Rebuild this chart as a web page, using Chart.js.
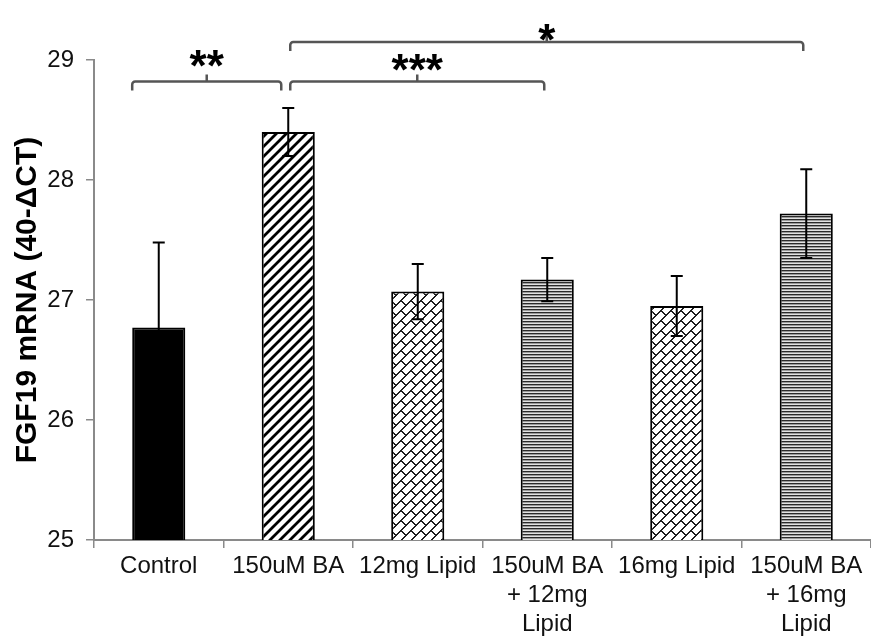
<!DOCTYPE html>
<html>
<head>
<meta charset="utf-8">
<script src="https://cdn.jsdelivr.net/npm/chart.js@4"></script>
<style>
  html, body { margin: 0; padding: 0; background: #fff; }
</style>
</head>
<body>
<canvas id="chart" width="871" height="638"></canvas>
<script>
const categories = [
  'Control',
  '150uM BA',
  '12mg Lipid',
  ['150uM BA', '+ 12mg', 'Lipid'],
  '16mg Lipid',
  ['150uM BA', '+ 16mg', 'Lipid']
];
const means = [26.77, 28.40, 27.07, 27.17, 26.95, 27.72];
const errors = [0.71, 0.20, 0.23, 0.18, 0.25, 0.37];
const yTicks = [25, 26, 27, 28, 29];

// significance brackets: from bar, to bar, level (y value), label
const brackets = [
  { from: 0, to: 1, level: 28.82, label: '**', gap: 26 },
  { from: 1, to: 3, level: 28.82, label: '***', gap: 22 },
  { from: 1, to: 5, level: 29.15, label: '*', gap: 12 }
];

const FONT = '"Liberation Sans", Arial, sans-serif';

// fill patterns
function diagPattern() {
  const c = document.createElement('canvas');
  c.width = 10; c.height = 10;
  const g = c.getContext('2d');
  g.fillStyle = '#fff';
  g.fillRect(0, 0, 10, 10);
  g.strokeStyle = '#000';
  g.lineWidth = 2.8;
  g.beginPath();
  g.moveTo(-2, 12); g.lineTo(12, -2);
  g.moveTo(-2, 2); g.lineTo(2, -2);
  g.moveTo(8, 12); g.lineTo(12, 8);
  g.stroke();
  return g.createPattern(c, 'repeat');
}

function brickPattern() {
  const s = 20, half = 10;
  const c = document.createElement('canvas');
  c.width = s; c.height = s;
  const g = c.getContext('2d');
  const img = g.createImageData(s, s);
  for (let y = 0; y < s; y++) {
    for (let x = 0; x < s; x++) {
      const u = ((x + y) % s + s) % s;
      const v = ((x - y) % s + s) % s;
      let dark = (u % half) < 1.6;
      const band = Math.floor(u / half);
      const off = band === 0 ? 0 : half;
      if (((v - off) % s + s) % s < 1.6) dark = true;
      const i = (y * s + x) * 4;
      const col = dark ? 30 : 255;
      img.data[i] = col; img.data[i + 1] = col; img.data[i + 2] = col; img.data[i + 3] = 255;
    }
  }
  g.putImageData(img, 0, 0);
  return g.createPattern(c, 'repeat');
}

function hLinePattern() {
  const c = document.createElement('canvas');
  c.width = 4; c.height = 3;
  const g = c.getContext('2d');
  g.fillStyle = '#2a2a2a'; g.fillRect(0, 0, 4, 1);
  g.fillStyle = '#9a9a9a'; g.fillRect(0, 1, 4, 1);
  g.fillStyle = '#e2e2e2'; g.fillRect(0, 2, 4, 1);
  return g.createPattern(c, 'repeat');
}

const diag = diagPattern();
const brick = brickPattern();
const hline = hLinePattern();
const fills = ['#000', diag, brick, hline, brick, hline];

const errorBars = {
  id: 'errorBars',
  afterDatasetsDraw(chart) {
    const ctx = chart.ctx;
    const y = chart.scales.y;
    const meta = chart.getDatasetMeta(0);
    ctx.save();
    ctx.strokeStyle = '#000';
    ctx.lineWidth = 2;
    meta.data.forEach((bar, i) => {
      const top = y.getPixelForValue(means[i] + errors[i]);
      const bot = y.getPixelForValue(means[i] - errors[i]);
      ctx.beginPath();
      ctx.moveTo(bar.x, top); ctx.lineTo(bar.x, bot);
      ctx.moveTo(bar.x - 6, top); ctx.lineTo(bar.x + 6, top);
      ctx.moveTo(bar.x - 6, bot); ctx.lineTo(bar.x + 6, bot);
      ctx.stroke();
    });
    ctx.restore();
  }
};

const sigBrackets = {
  id: 'sigBrackets',
  afterDraw(chart) {
    const ctx = chart.ctx;
    const y = chart.scales.y;
    const meta = chart.getDatasetMeta(0);
    const size = 44;
    ctx.save();
    ctx.strokeStyle = '#555';
    ctx.lineWidth = 2.5;
    ctx.lineJoin = 'round';
    ctx.fillStyle = '#000';
    ctx.font = 'bold ' + size + 'px ' + FONT;
    ctx.textAlign = 'center';
    brackets.forEach((b, k) => {
      const a = meta.data[b.from], z = meta.data[b.to];
      const x0 = k === 0 ? a.x - a.width / 2 : a.x + 2;
      const x1 = k === 0 ? z.x - 7 : z.x - 3;
      const yl = y.getPixelForValue(b.level);
      const mid = (x0 + x1) / 2;
      const drop = 9, r = 3;
      ctx.beginPath();
      ctx.moveTo(x0, yl + drop);
      ctx.arcTo(x0, yl, x0 + r, yl, r);
      ctx.lineTo(x1 - r, yl);
      ctx.arcTo(x1, yl, x1, yl + drop, r);
      ctx.lineTo(x1, yl + drop);
      ctx.moveTo(mid, yl);
      ctx.lineTo(mid, yl - 7);
      ctx.stroke();
      ctx.fillText(b.label, mid, yl - b.gap + 0.57 * size);
    });
    ctx.restore();
  }
};

new Chart(document.getElementById('chart'), {
  type: 'bar',
  data: {
    labels: categories,
    datasets: [{
      data: means,
      backgroundColor: fills,
      borderColor: '#000',
      borderWidth: 2,
      borderSkipped: false,
      categoryPercentage: 1,
      barPercentage: 0.41
    }]
  },
  options: {
    responsive: false,
    animation: false,
    layout: { padding: { top: 60, left: 0, right: 0, bottom: 0 } },
    plugins: {
      legend: { display: false },
      tooltip: { enabled: false }
    },
    scales: {
      x: {
        grid: {
          offset: true,
          drawOnChartArea: false,
          drawTicks: true,
          tickLength: 8,
          color: '#8a8a8a',
          lineWidth: 1.5
        },
        border: { display: true, color: '#8a8a8a', width: 2 },
        ticks: {
          color: '#111',
          font: { family: FONT, size: 24, lineHeight: 1.2 },
          padding: 4,
          maxRotation: 0,
          autoSkip: false
        },
        afterFit(scale) { scale.height = 98; }
      },
      y: {
        min: 25,
        max: 29,
        afterBuildTicks(scale) { scale.ticks = yTicks.map(v => ({ value: v })); },
        grid: {
          drawOnChartArea: false,
          drawTicks: true,
          tickLength: 8,
          color: '#8a8a8a',
          lineWidth: 1.5
        },
        border: { display: true, color: '#8a8a8a', width: 2 },
        ticks: {
          color: '#111',
          font: { family: FONT, size: 24 },
          padding: 12
        },
        title: {
          display: true,
          text: 'FGF19 mRNA (40-ΔCT)',
          color: '#000',
          font: { family: FONT, size: 30, weight: 'bold', lineHeight: 1.2 },
          padding: { top: 10, bottom: 0 }
        },
        afterFit(scale) { scale.width = 94; }
      }
    }
  },
  plugins: [errorBars, sigBrackets]
});
</script>
</body>
</html>
